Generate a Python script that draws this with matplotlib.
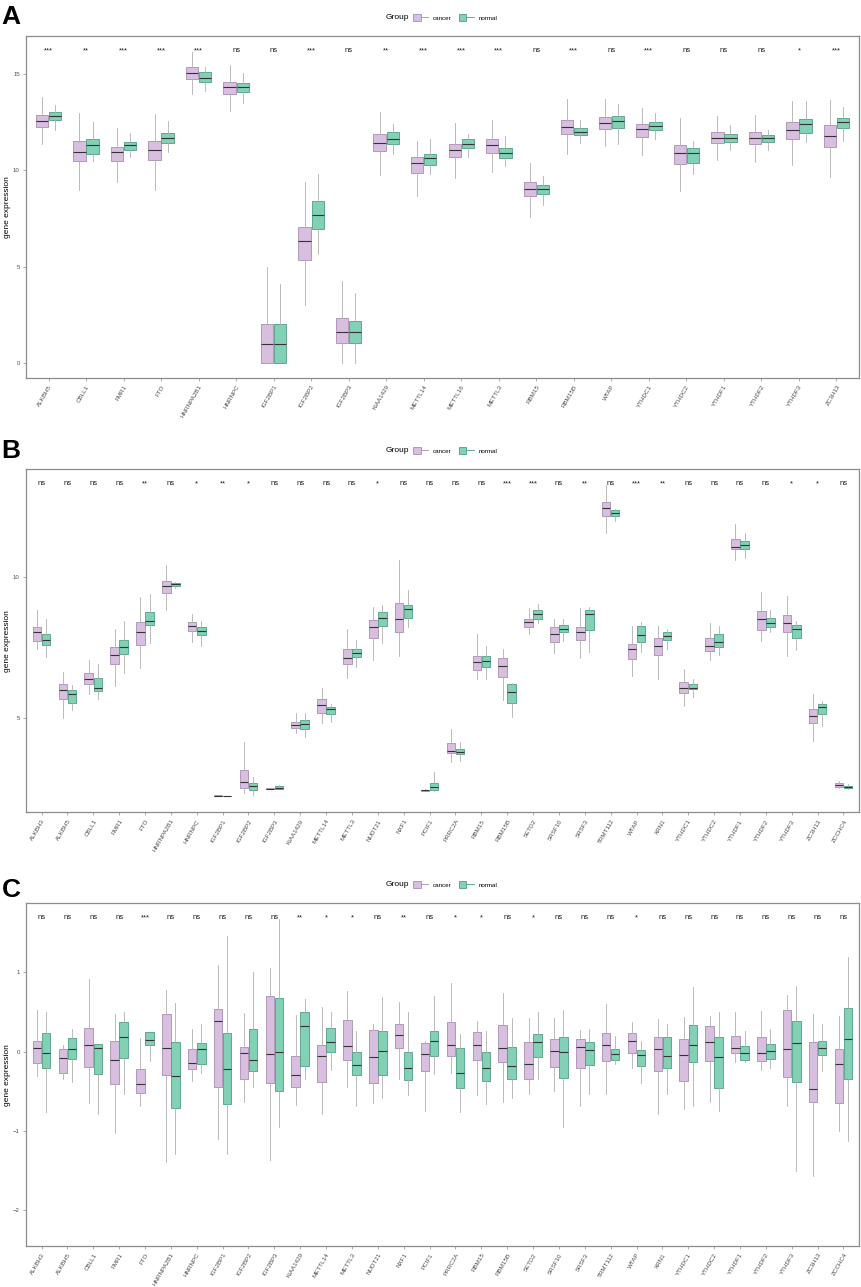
import matplotlib
matplotlib.use("Agg")
from matplotlib import pyplot as plt
from matplotlib.patches import Patch
from matplotlib.lines import Line2D
from matplotlib.legend_handler import HandlerTuple
import matplotlib.transforms as mtransforms

plt.rcParams['font.family'] = ['Liberation Sans', 'DejaVu Sans']

# ---- panel A: genes, significance, box stats (lo, q1, med, q3, hi)
genes_a = ['ALKBH5', 'CBLL1', 'FMR1', 'FTO', 'HNRNPA2B1', 'HNRNPC', 'IGF2BP1', 'IGF2BP2',
           'IGF2BP3', 'KIAA1429', 'METTL14', 'METTL16', 'METTL3', 'RBM15', 'RBM15B', 'WTAP',
           'YTHDC1', 'YTHDC2', 'YTHDF1', 'YTHDF2', 'YTHDF3', 'ZC3H13']
sig_a = ['***', '**', '***', '***', '***', 'ns', 'ns', '***', 'ns', '**', '***', '***', '***',
         'ns', '***', 'ns', '***', 'ns', 'ns', 'ns', '*', '***']
a_cancer = [(11.38, 12.28, 12.58, 12.91, 13.85), (8.97, 10.49, 10.98, 11.53, 12.98),
            (9.41, 10.49, 10.96, 11.24, 12.23), (9.01, 10.54, 11.08, 11.55, 12.93),
            (13.99, 14.77, 15.09, 15.37, 16.15), (13.12, 13.99, 14.32, 14.63, 15.51),
            (0.0, 0.0, 0.99, 2.0, 5.0), (3.0, 5.35, 6.31, 7.06, 9.41),
            (0.0, 1.01, 1.57, 2.3, 4.27), (9.79, 11.01, 11.45, 11.88, 13.07),
            (8.66, 9.88, 10.38, 10.71, 11.55), (9.63, 10.68, 11.06, 11.39, 12.46),
            (9.9, 10.92, 11.31, 11.62, 12.63), (7.58, 8.68, 9.02, 9.41, 10.37),
            (10.84, 11.88, 12.28, 12.61, 13.71), (11.27, 12.14, 12.49, 12.8, 13.71),
            (10.8, 11.74, 12.14, 12.4, 13.24), (8.92, 10.35, 10.89, 11.31, 12.72),
            (10.56, 11.45, 11.71, 12.02, 12.86), (10.45, 11.36, 11.71, 12.0, 12.89),
            (10.31, 11.62, 12.13, 12.51, 13.64), (9.67, 11.24, 11.81, 12.37, 13.68)]
a_normal = [(12.11, 12.65, 12.86, 13.07, 13.41), (10.49, 10.87, 11.32, 11.64, 12.51),
            (10.71, 11.06, 11.31, 11.5, 11.97), (10.94, 11.45, 11.71, 11.97, 12.6),
            (14.15, 14.63, 14.81, 15.12, 15.37), (13.5, 14.08, 14.37, 14.55, 15.1),
            (0.0, 0.0, 0.99, 2.0, 4.09), (5.66, 6.97, 7.67, 8.41, 9.81),
            (0.0, 1.01, 1.57, 2.16, 3.61), (10.84, 11.38, 11.66, 12.02, 12.4),
            (9.81, 10.31, 10.63, 10.87, 11.64), (10.71, 11.18, 11.36, 11.62, 11.88),
            (10.24, 10.66, 10.92, 11.18, 11.81), (8.19, 8.78, 9.02, 9.27, 9.7),
            (11.45, 11.83, 12.02, 12.2, 12.63), (11.38, 12.2, 12.58, 12.84, 13.47),
            (11.64, 12.09, 12.32, 12.54, 12.98), (9.84, 10.4, 10.89, 11.17, 11.55),
            (11.06, 11.5, 11.71, 11.9, 12.37), (11.06, 11.5, 11.71, 11.85, 12.11),
            (11.46, 11.97, 12.4, 12.67, 13.64), (11.53, 12.2, 12.53, 12.75, 13.33)]

# ---- panels B and C share the gene list
genes_bc = ['ALKBH3', 'ALKBH5', 'CBLL1', 'FMR1', 'FTO', 'HNRNPA2B1', 'HNRNPC', 'IGF2BP1',
            'IGF2BP2', 'IGF2BP3', 'KIAA1429', 'METTL14', 'METTL3', 'NUDT21', 'NXF1', 'PCIF1',
            'PRRC2A', 'RBM15', 'RBM15B', 'SETD2', 'SRSF10', 'SRSF3', 'TRMT112', 'WTAP',
            'XRN1', 'YTHDC1', 'YTHDC2', 'YTHDF1', 'YTHDF2', 'YTHDF3', 'ZC3H13', 'ZCCHC4']
sig_b = ['ns', 'ns', 'ns', 'ns', '**', 'ns', '*', '**', '*', 'ns', 'ns', 'ns', 'ns', '*', 'ns',
         'ns', 'ns', 'ns', '***', '***', 'ns', '**', 'ns', '***', '**', 'ns', 'ns', 'ns', 'ns',
         '*', '*', 'ns']
b_cancer = [(7.45, 7.72, 8.02, 8.22, 8.83), (4.98, 5.68, 5.98, 6.21, 6.63),
            (5.83, 6.19, 6.37, 6.59, 7.06), (6.13, 6.89, 7.21, 7.51, 8.16),
            (6.77, 7.57, 8.03, 8.38, 9.28), (8.83, 9.41, 9.68, 9.83, 10.41),
            (7.69, 8.08, 8.25, 8.4, 8.66), (2.22, 2.23, 2.24, 2.25, 2.25),
            (2.32, 2.5, 2.74, 3.15, 4.13), (2.46, 2.48, 2.49, 2.51, 2.52),
            (4.45, 4.62, 4.74, 4.86, 5.15), (4.83, 5.18, 5.44, 5.65, 6.06),
            (6.42, 6.91, 7.11, 7.42, 8.13), (7.06, 7.83, 8.2, 8.46, 8.93),
            (7.19, 8.04, 8.49, 9.07, 10.58), (2.41, 2.42, 2.44, 2.45, 2.46),
            (3.42, 3.76, 3.82, 4.12, 4.59), (6.36, 6.69, 6.97, 7.18, 7.96),
            (5.63, 6.45, 6.84, 7.13, 7.42), (7.98, 8.21, 8.38, 8.49, 8.87),
            (7.31, 7.7, 7.95, 8.2, 8.51), (7.13, 7.77, 8.05, 8.22, 8.9),
            (11.54, 12.16, 12.42, 12.63, 13.23), (6.49, 7.09, 7.45, 7.61, 8.24),
            (6.36, 7.22, 7.54, 7.81, 8.25), (5.42, 5.86, 6.05, 6.25, 6.71),
            (7.06, 7.36, 7.54, 7.81, 8.36), (10.6, 10.99, 11.05, 11.34, 11.86),
            (7.72, 8.11, 8.5, 8.79, 9.47), (7.19, 8.03, 8.34, 8.64, 9.3),
            (4.19, 4.82, 5.06, 5.32, 5.84), (2.51, 2.54, 2.62, 2.7, 2.77)]
b_normal = [(7.16, 7.57, 7.75, 7.98, 8.51), (5.29, 5.53, 5.84, 5.98, 6.16),
            (5.65, 5.96, 6.07, 6.42, 6.89), (6.6, 7.24, 7.5, 7.77, 8.42),
            (7.63, 8.29, 8.43, 8.75, 9.4), (9.58, 9.68, 9.73, 9.79, 9.8),
            (7.54, 7.92, 8.08, 8.22, 8.43), (2.21, 2.22, 2.23, 2.24, 2.24),
            (2.26, 2.44, 2.59, 2.68, 2.91), (2.46, 2.48, 2.52, 2.59, 2.6),
            (4.33, 4.59, 4.78, 4.92, 5.15), (4.86, 5.13, 5.32, 5.39, 5.47),
            (6.8, 7.16, 7.28, 7.44, 7.75), (7.65, 8.25, 8.54, 8.73, 9.01),
            (8.22, 8.54, 8.84, 8.99, 9.54), (2.41, 2.44, 2.56, 2.7, 3.09),
            (3.48, 3.71, 3.8, 3.88, 4.15), (6.36, 6.78, 7.02, 7.18, 7.55),
            (5.01, 5.51, 5.92, 6.19, 6.24), (8.34, 8.51, 8.69, 8.81, 9.02),
            (7.71, 8.02, 8.14, 8.28, 8.49), (7.33, 8.1, 8.66, 8.83, 8.93),
            (11.96, 12.15, 12.26, 12.35, 12.41), (7.33, 7.7, 7.92, 8.24, 8.4),
            (7.43, 7.75, 7.88, 8.02, 8.13), (5.72, 6.0, 6.06, 6.19, 6.38),
            (7.22, 7.51, 7.69, 7.95, 8.24), (10.66, 10.98, 11.12, 11.25, 11.56),
            (8.04, 8.2, 8.36, 8.55, 8.83), (7.39, 7.81, 8.13, 8.3, 8.42),
            (4.71, 5.13, 5.38, 5.47, 5.59), (2.49, 2.51, 2.56, 2.59, 2.64)]

sig_c = ['ns', 'ns', 'ns', 'ns', '***', 'ns', 'ns', 'ns', 'ns', 'ns', '**', '*', '*', 'ns', '**',
         'ns', '*', '*', 'ns', '*', 'ns', 'ns', 'ns', '*', 'ns', 'ns', 'ns', 'ns', 'ns', 'ns',
         'ns', 'ns']
c_cancer = [(-0.31, -0.14, 0.04, 0.13, 0.52), (-0.34, -0.27, -0.08, 0.03, 0.08),
            (-0.65, -0.19, 0.08, 0.3, 0.92), (-1.02, -0.41, -0.1, 0.13, 0.48),
            (-0.69, -0.52, -0.41, -0.22, 0.17), (-1.39, -0.29, 0.05, 0.48, 0.78),
            (-0.37, -0.22, -0.14, 0.03, 0.28), (-1.1, -0.44, 0.39, 0.54, 1.09),
            (-0.63, -0.35, -0.02, 0.06, 0.49), (-1.37, -0.39, -0.03, 0.7, 1.06),
            (-0.67, -0.44, -0.29, -0.05, 0.46), (-0.78, -0.38, -0.05, 0.08, 0.56),
            (-0.44, -0.11, 0.07, 0.4, 0.76), (-0.65, -0.4, -0.07, 0.27, 0.35),
            (-0.34, 0.04, 0.21, 0.35, 0.63), (-0.75, -0.24, -0.03, 0.11, 0.14),
            (-0.27, -0.05, 0.08, 0.37, 0.86), (-0.55, -0.11, 0.08, 0.25, 0.38),
            (-0.63, -0.13, 0.05, 0.33, 0.74), (-0.53, -0.35, -0.15, 0.12, 0.42),
            (-0.5, -0.19, 0.01, 0.16, 0.43), (-0.68, -0.21, 0.06, 0.16, 0.27),
            (-0.54, -0.12, 0.08, 0.24, 0.6), (-0.21, -0.02, 0.13, 0.24, 0.37),
            (-0.78, -0.25, 0.03, 0.19, 0.41), (-0.72, -0.37, -0.04, 0.16, 0.44),
            (-0.63, -0.12, 0.12, 0.32, 0.45), (-0.13, -0.02, 0.05, 0.2, 0.5),
            (-0.23, -0.12, -0.02, 0.19, 0.51), (-0.68, -0.32, 0.03, 0.52, 0.71),
            (-1.57, -0.64, -0.47, 0.12, 0.48), (-1.0, -0.65, -0.15, 0.03, 0.45)]
c_normal = [(-0.76, -0.2, -0.02, 0.23, 0.5), (-0.38, -0.09, 0.03, 0.17, 0.29),
            (-0.79, -0.28, 0.04, 0.1, 0.1), (-0.53, -0.08, 0.19, 0.37, 0.5),
            (-0.12, 0.09, 0.15, 0.25, 0.25), (-1.29, -0.71, -0.31, 0.12, 0.61),
            (-0.27, -0.16, 0.03, 0.11, 0.35), (-1.29, -0.66, -0.22, 0.24, 1.46),
            (-0.44, -0.24, -0.1, 0.29, 1.0), (-0.95, -0.5, -0.01, 0.67, 1.67),
            (-0.35, -0.18, 0.32, 0.5, 0.66), (-0.23, 0.0, 0.12, 0.3, 0.5),
            (-0.68, -0.3, -0.17, -0.01, 0.26), (-0.59, -0.29, 0.01, 0.26, 0.69),
            (-0.55, -0.36, -0.2, 0.0, 0.5), (-0.28, -0.05, 0.13, 0.26, 0.7),
            (-0.76, -0.46, -0.27, 0.05, 0.22), (-0.66, -0.37, -0.2, 0.0, 0.26),
            (-0.58, -0.34, -0.18, 0.06, 0.43), (-0.34, -0.07, 0.12, 0.22, 0.5),
            (-0.95, -0.33, -0.01, 0.18, 0.52), (-0.53, -0.17, 0.02, 0.12, 0.29),
            (-0.16, -0.11, -0.03, 0.03, 0.2), (-0.4, -0.18, -0.04, 0.02, 0.13),
            (-0.54, -0.2, -0.05, 0.18, 0.35), (-0.69, -0.13, 0.08, 0.33, 0.82),
            (-0.75, -0.46, -0.07, 0.18, 0.5), (-0.13, -0.1, -0.02, 0.07, 0.26),
            (-0.2, -0.09, 0.01, 0.1, 0.29), (-1.51, -0.38, 0.11, 0.38, 0.83),
            (-0.25, -0.04, 0.05, 0.13, 0.35), (-1.13, -0.34, 0.16, 0.55, 1.19)]

# colours
fill_c, edge_c = '#d8bfe0', '#a88fb0'
fill_n, edge_n = '#82d1b5', '#4f9e82'
whisk_col = '#b0b0b0'
med_col = '#333333'
frame_col = '#8c8c8c'


def draw_panel(ax, genes, sig, cancer, normal, ylim, yticks):
    n = len(genes)
    for data, off, fc, ec in [(cancer, -0.175, fill_c, edge_c), (normal, 0.175, fill_n, edge_n)]:
        stats = [dict(whislo=s[0], q1=s[1], med=s[2], q3=s[3], whishi=s[4], fliers=[])
                 for s in data]
        ax.bxp(stats, positions=[i + off for i in range(n)], widths=0.33,
               patch_artist=True, showcaps=False, showfliers=False, manage_ticks=False,
               boxprops=dict(facecolor=fc, edgecolor=ec, linewidth=0.6),
               whiskerprops=dict(color=whisk_col, linewidth=0.6),
               medianprops=dict(color=med_col, linewidth=0.8))

    # significance labels
    trans = mtransforms.blended_transform_factory(ax.transData, ax.transAxes)
    for i, s in enumerate(sig):
        ax.text(i, 0.953, s, transform=trans, ha='center', va='baseline',
                fontsize=5.5, color='#1a1a1a')

    ax.set_xlim(-0.6, n - 0.4)
    ax.set_ylim(*ylim)
    ax.set_yticks(yticks)
    ax.set_xticks(range(n))
    ax.set_xticklabels(genes, rotation=60, ha='right', rotation_mode='anchor')
    ax.tick_params(length=2.5, width=0.5, color=frame_col, labelcolor='#4d4d4d', pad=2)
    ax.tick_params(axis='x', labelsize=4.5)
    ax.tick_params(axis='y', labelsize=4.3)
    for sp in ax.spines.values():
        sp.set_color(frame_col)
        sp.set_linewidth(0.9)
    ax.set_ylabel('gene expression', fontsize=6)
    ax.yaxis.set_label_coords(-0.018, 0.5)

    # legend on top
    ax.text(0.432, 1.054, 'Group', transform=ax.transAxes, ha='left', va='center', fontsize=6)
    h_c = (Patch(facecolor=fill_c, edgecolor=edge_c, lw=0.6), Line2D([], [], color=edge_c, lw=0.6))
    h_n = (Patch(facecolor=fill_n, edgecolor=edge_n, lw=0.6), Line2D([], [], color=edge_n, lw=0.6))
    ax.legend([h_c, h_n], ['cancer', 'normal'],
              handler_map={tuple: HandlerTuple(ndivide=None, pad=0)},
              loc='center left', bbox_to_anchor=(0.4646, 1.054), ncol=2, frameon=False,
              fontsize=4.5, handlelength=2.4, handleheight=1.3, handletextpad=0.8,
              columnspacing=1.1, borderaxespad=0, borderpad=0)


fig = plt.figure(figsize=(8.62, 12.87), dpi=100)
W, H = 862, 1287
left, right = 26, 859

ax_a = fig.add_axes([left / W, 1 - 378 / H, (right - left) / W, (378 - 36) / H])
ax_b = fig.add_axes([left / W, 1 - 812.3 / H, (right - left) / W, (812.3 - 469.3) / H])
ax_c = fig.add_axes([left / W, 1 - 1246 / H, (right - left) / W, (1246 - 903.3) / H])

draw_panel(ax_a, genes_a, sig_a, a_cancer, a_normal, (-0.8, 17.0), [0, 5, 10, 15])
draw_panel(ax_b, genes_bc, sig_b, b_cancer, b_normal, (1.65, 13.8), [5, 10])
draw_panel(ax_c, genes_bc, sig_c, c_cancer, c_normal, (-2.45, 1.87), [-2, -1, 0, 1])

fig.text(0.002, 1 - 24 / H, 'A', fontsize=19, fontweight='bold', va='baseline')
fig.text(0.002, 1 - 458 / H, 'B', fontsize=19, fontweight='bold', va='baseline')
fig.text(0.002, 1 - 897 / H, 'C', fontsize=19, fontweight='bold', va='baseline')

fig.savefig('out.png', dpi=100)
